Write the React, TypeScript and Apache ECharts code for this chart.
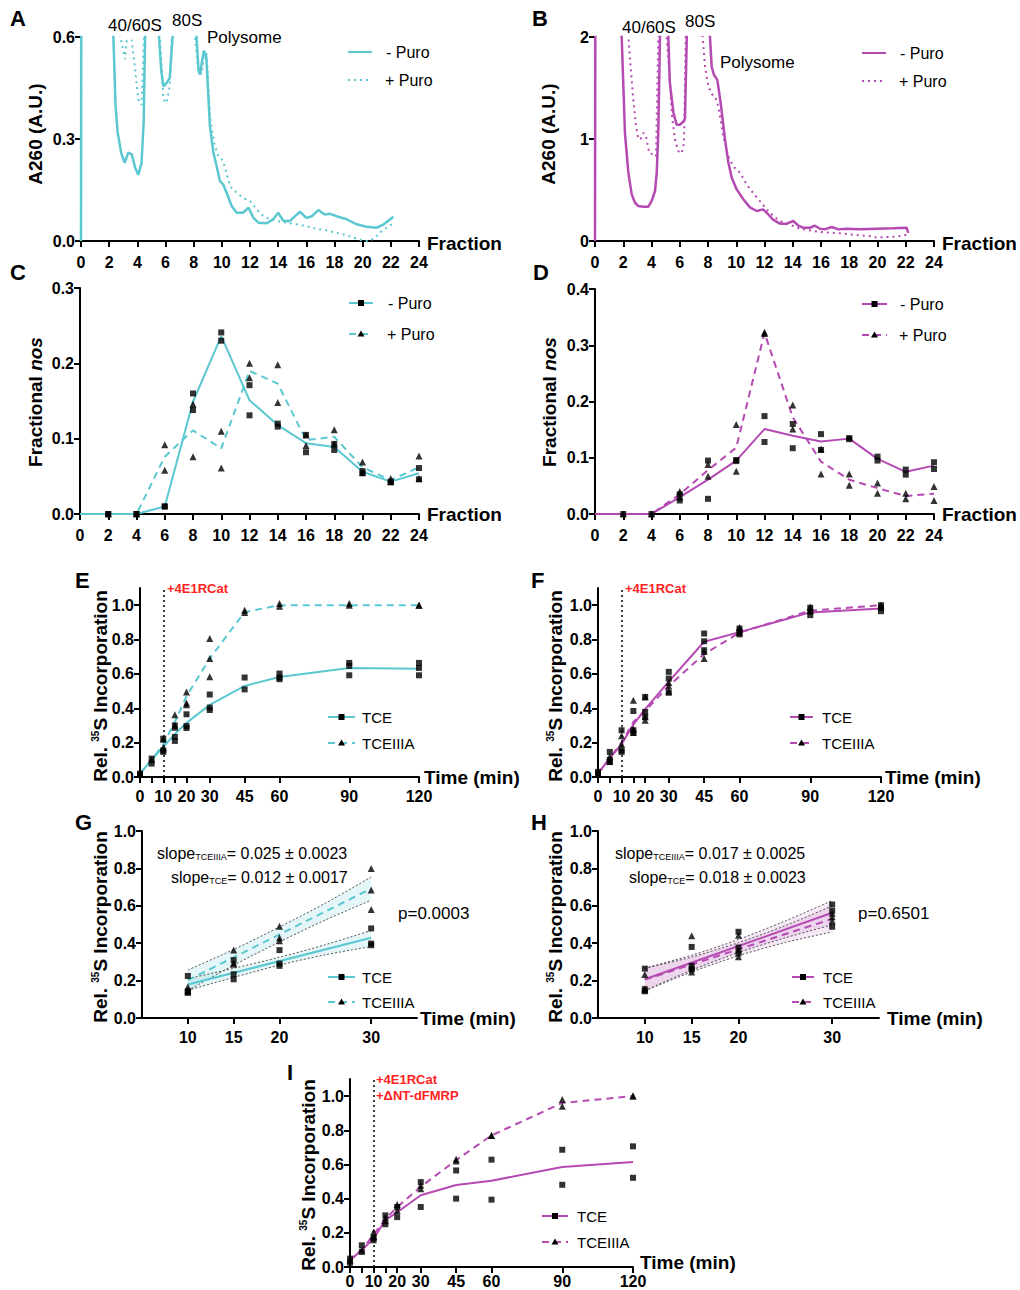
import React, { useEffect, useRef } from "react";
import * as echarts from "echarts";

const FONT = "'Liberation Sans', Arial, Helvetica, sans-serif";
const CYAN = "#5BC8D1";
const MAG = "#B54AB2";

// ---------- Panel A (A260 traces, cyan) [fraction, A260] ----------
const aMinusPuro: number[][] = [
  [0, 0], [0.03, 1.2], [1.5, 1.5], [2.3, 0.6], [2.45, 0.4], [2.6, 0.32], [2.85, 0.26], [3.1, 0.23], [3.36, 0.26],
  [3.6, 0.255], [3.85, 0.215], [4.07, 0.195], [4.3, 0.23], [4.45, 0.35], [4.55, 0.6], [5.0, 1.5], [5.54, 0.6],
  [5.7, 0.5], [5.85, 0.455], [6.08, 0.465], [6.3, 0.48], [6.42, 0.55], [6.5, 0.6], [7.3, 1.5], [8.2, 0.6],
  [8.35, 0.5], [8.45, 0.49], [8.6, 0.53], [8.73, 0.56], [8.9, 0.54], [9.15, 0.34], [9.4, 0.26], [9.63, 0.22],
  [9.87, 0.176], [10.1, 0.166], [10.34, 0.142], [10.7, 0.103], [11.05, 0.083], [11.5, 0.083], [11.9, 0.098],
  [12.24, 0.068], [12.6, 0.054], [13.2, 0.052], [13.65, 0.064], [14.0, 0.083], [14.37, 0.059], [14.84, 0.059],
  [15.2, 0.073], [15.55, 0.086], [16.0, 0.068], [16.4, 0.073], [16.85, 0.091], [17.3, 0.078], [17.7, 0.08],
  [18.15, 0.073], [18.86, 0.064], [19.57, 0.049], [20.28, 0.042], [21.0, 0.039], [21.5, 0.049], [21.8, 0.059],
  [22.18, 0.071],
];
const aPlusPuro: number[][] = [
  [0, 0], [0.03, 1.2], [1.5, 1.5], [2.8, 0.6], [3.0, 0.56], [3.12, 0.535], [3.25, 0.59], [3.6, 0.59], [3.83, 0.51],
  [4.07, 0.416], [4.3, 0.4], [4.47, 0.6], [5.0, 1.5], [5.6, 0.6], [5.85, 0.416], [6.08, 0.406], [6.3, 0.455],
  [6.44, 0.6], [7.3, 1.5], [8.1, 0.6], [8.33, 0.5], [8.57, 0.49], [8.75, 0.55], [8.92, 0.55], [9.15, 0.367],
  [9.5, 0.28], [9.75, 0.25], [10.0, 0.24], [10.2, 0.22], [10.6, 0.16], [11.05, 0.142], [11.5, 0.127], [12.0, 0.117],
  [12.47, 0.093], [12.95, 0.073], [13.4, 0.064], [13.9, 0.059], [14.6, 0.054], [15.3, 0.049], [16.0, 0.044],
  [16.7, 0.036], [17.4, 0.032], [18.15, 0.024], [18.86, 0.017], [19.57, 0.007], [20.05, 0], [20.5, 0], [20.9, 0.01],
  [21.2, 0.024], [21.7, 0.039], [22.18, 0.052],
];

// ---------- Panel B (A260 traces, magenta) ----------
const bMinusPuro: number[][] = [
  [0, 0], [0.03, 3], [1.5, 3], [1.89, 2], [2.12, 1.06], [2.36, 0.67], [2.6, 0.457], [2.83, 0.375], [3.07, 0.343],
  [3.42, 0.336], [3.78, 0.336], [4.0, 0.39], [4.25, 0.49], [4.37, 0.67], [4.48, 1.06], [4.6, 2], [4.9, 3], [5.19, 2],
  [5.3, 1.55], [5.55, 1.26], [5.78, 1.14], [6.0, 1.14], [6.25, 1.17], [6.37, 1.2], [6.5, 2], [7.3, 3], [8.14, 2],
  [8.26, 1.71], [8.42, 1.63], [8.66, 1.58], [8.9, 1.35], [9.2, 1.0], [9.44, 0.77], [9.68, 0.62], [10.03, 0.506],
  [10.5, 0.41], [10.97, 0.33], [11.45, 0.294], [11.9, 0.31], [12.27, 0.26], [12.6, 0.21], [13.1, 0.17], [13.57, 0.17],
  [14.04, 0.196], [14.4, 0.15], [14.75, 0.13], [15.22, 0.13], [15.57, 0.15], [15.93, 0.12], [16.28, 0.114],
  [16.76, 0.137], [17.23, 0.114], [17.8, 0.12], [18.76, 0.114], [19.94, 0.12], [21.12, 0.124], [22.06, 0.13],
  [22.18, 0.08],
];
const bPlusPuro: number[][] = [
  [0, 0], [0.03, 3], [1.5, 3], [2.36, 2], [2.52, 1.71], [2.71, 1.39], [2.9, 1.13], [3.07, 1.0], [3.23, 1.0],
  [3.42, 1.06], [3.6, 1.03], [3.85, 0.86], [4.13, 0.85], [4.32, 0.83], [4.48, 2], [4.8, 3], [5.07, 2], [5.26, 1.65],
  [5.45, 1.22], [5.66, 1.0], [5.9, 0.88], [6.14, 0.86], [6.3, 0.96], [6.42, 2], [7.0, 3], [7.62, 2], [7.79, 1.71],
  [8.02, 1.52], [8.26, 1.44], [8.5, 1.42], [8.73, 1.32], [9.08, 1.03], [9.44, 0.83], [9.79, 0.73], [10.27, 0.67],
  [10.74, 0.555], [11.2, 0.47], [11.68, 0.39], [12.15, 0.31], [12.63, 0.245], [13.1, 0.196], [13.57, 0.17],
  [14.04, 0.147], [14.5, 0.12], [15.22, 0.104], [15.93, 0.088], [16.64, 0.082], [17.35, 0.075], [18.05, 0.065],
  [18.76, 0.055], [19.47, 0.049], [19.94, 0.033], [20.65, 0.039], [21.36, 0.042], [22.18, 0.065],
];

// ---------- Panels C, D (fractional nos) ----------
const fractions = [0, 2, 4, 6, 8, 10, 12, 14, 16, 18, 20, 22, 24];
const cMinusMean = [0, 0, 0, 0.01, 0.149, 0.236, 0.151, 0.118, 0.094, 0.089, 0.056, 0.043, 0.054];
const cPlusMean = [0, 0, 0, 0.076, 0.111, 0.087, 0.19, 0.173, 0.098, 0.1025, 0.062, 0.045, 0.062];
const cMinusReps: number[][] = [
  [2, 0], [2, 0], [4, 0], [4, 0], [6, 0.01], [6, 0.01], [8, 0.16], [8, 0.138], [10, 0.241], [10, 0.23], [12, 0.171],
  [12, 0.131], [14, 0.12], [14, 0.116], [16, 0.105], [16, 0.082], [18, 0.093], [18, 0.085], [20, 0.057], [20, 0.054],
  [22, 0.043], [22, 0.042], [24, 0.061], [24, 0.046],
];
const cPlusReps: number[][] = [
  [2, 0], [4, 0], [6, 0.092], [6, 0.058], [8, 0.146], [8, 0.076], [10, 0.11], [10, 0.061], [12, 0.2], [12, 0.181],
  [14, 0.198], [14, 0.148], [16, 0.105], [16, 0.091], [18, 0.112], [18, 0.093], [20, 0.069], [20, 0.055],
  [22, 0.047], [22, 0.043], [24, 0.077], [24, 0.047],
];
const dMinusMean = [0, 0, 0, 0.03, 0.061, 0.095, 0.151, 0.139, 0.129, 0.134, 0.098, 0.075, 0.086];
const dPlusMean = [0, 0, 0, 0.035, 0.078, 0.118, 0.322, 0.172, 0.093, 0.061, 0.046, 0.032, 0.036];
const dMinusReps: number[][] = [
  [2, 0], [4, 0], [6, 0.024], [6, 0.035], [8, 0.095], [8, 0.027], [10, 0.096], [10, 0.094], [12, 0.174], [12, 0.128],
  [14, 0.16], [14, 0.117], [16, 0.142], [16, 0.114], [18, 0.135], [18, 0.133], [20, 0.102], [20, 0.095],
  [22, 0.079], [22, 0.07], [24, 0.092], [24, 0.08],
];
const dPlusReps: number[][] = [
  [2, 0], [4, 0], [6, 0.04], [6, 0.03], [8, 0.088], [8, 0.067], [10, 0.159], [10, 0.076], [12, 0.323], [12, 0.321],
  [14, 0.194], [14, 0.151], [16, 0.071], [16, 0.115], [18, 0.071], [18, 0.051], [20, 0.055], [20, 0.037],
  [22, 0.037], [22, 0.027], [24, 0.049], [24, 0.024],
];

// ---------- Panels E, F, I (time courses) ----------
const times = [0, 5, 10, 15, 20, 30, 45, 60, 90, 120];
const timeTicks = [0, 5, 10, 15, 20, 30, 45, 60, 90, 120];
const timeLabels = [0, 10, 20, 30, 45, 60, 90, 120];
const incTicks = [0, 0.2, 0.4, 0.6, 0.8, 1.0];
const drugAddedAt = 10;

const eTceMean = [0.02, 0.1, 0.175, 0.25, 0.315, 0.42, 0.53, 0.582, 0.635, 0.63];
const eIIIAMean = [0.02, 0.1, 0.19, 0.32, 0.47, 0.69, 0.96, 1.0, 1.0, 1.0];
const eTceReps: number[][] = [
  [0, 0.02], [0, 0.015], [5, 0.107], [5, 0.078], [10, 0.223], [10, 0.155], [10, 0.146], [15, 0.3], [15, 0.233],
  [15, 0.21], [20, 0.365], [20, 0.297], [20, 0.285], [30, 0.48], [30, 0.404], [30, 0.39], [45, 0.579], [45, 0.51],
  [60, 0.602], [60, 0.579], [60, 0.569], [90, 0.664], [90, 0.647], [90, 0.592], [120, 0.664], [120, 0.635],
  [120, 0.592],
];
const eIIIAReps: number[][] = [
  [0, 0.02], [5, 0.1], [10, 0.22], [10, 0.17], [15, 0.363], [15, 0.3], [15, 0.29], [20, 0.495], [20, 0.43],
  [20, 0.42], [30, 0.806], [30, 0.689], [30, 0.583], [45, 0.97], [45, 0.957], [60, 1.01], [60, 0.994], [90, 1.01],
  [90, 1.0], [120, 1.0], [120, 1.0],
];

const fTceMean = [0.02, 0.11, 0.19, 0.305, 0.395, 0.555, 0.787, 0.843, 0.958, 0.98];
const fIIIAMean = [0.02, 0.11, 0.2, 0.32, 0.385, 0.53, 0.715, 0.84, 0.968, 1.0];
const fTceReps: number[][] = [
  [0, 0.02], [0, 0.03], [5, 0.146], [5, 0.087], [5, 0.1], [10, 0.272], [10, 0.155], [10, 0.146], [15, 0.384],
  [15, 0.272], [15, 0.256], [20, 0.466], [20, 0.379], [20, 0.35], [30, 0.612], [30, 0.573], [30, 0.49], [45, 0.835],
  [45, 0.79], [45, 0.738], [60, 0.864], [60, 0.845], [60, 0.83], [90, 0.985], [90, 0.961], [90, 0.942], [120, 1.0],
  [120, 0.985], [120, 0.965],
];
const fIIIAReps: number[][] = [
  [0, 0.02], [5, 0.12], [5, 0.09], [10, 0.24], [10, 0.19], [15, 0.447], [15, 0.28], [15, 0.26], [20, 0.466],
  [20, 0.35], [20, 0.33], [30, 0.55], [30, 0.5], [30, 0.53], [45, 0.69], [45, 0.73], [60, 0.87], [60, 0.84],
  [90, 0.99], [90, 0.97], [120, 1.0], [120, 0.99],
];

const iTceMean = [0.04, 0.1, 0.165, 0.275, 0.32, 0.42, 0.48, 0.505, 0.585, 0.614];
const iIIIAMean = [0.04, 0.1, 0.19, 0.28, 0.35, 0.47, 0.625, 0.77, 0.96, 1.0];
const iTceReps: number[][] = [
  [0, 0.049], [0, 0.025], [5, 0.127], [5, 0.088], [10, 0.17], [10, 0.156], [15, 0.302], [15, 0.25], [20, 0.351],
  [20, 0.292], [30, 0.497], [30, 0.351], [45, 0.565], [45, 0.4], [60, 0.628], [60, 0.394], [90, 0.686], [90, 0.481],
  [120, 0.706], [120, 0.522],
];
const iIIIAReps: number[][] = [
  [0, 0.04], [5, 0.1], [10, 0.205], [10, 0.18], [15, 0.27], [15, 0.29], [20, 0.365], [20, 0.33], [30, 0.478],
  [30, 0.458], [45, 0.63], [45, 0.62], [60, 0.77], [60, 0.77], [90, 0.98], [90, 0.94], [120, 1.0], [120, 1.0],
];

// ---------- Panels G, H (linear fits 10-30 min) ----------
const slopeTimes = [10, 15, 20, 30];
const fitX = [10, 30];
const bandX = [10, 15, 20, 25, 30];

const gTceReps: number[][] = [
  [10, 0.225], [10, 0.143], [10, 0.136], [15, 0.309], [15, 0.234], [15, 0.207], [20, 0.363], [20, 0.291],
  [20, 0.279], [30, 0.479], [30, 0.398], [30, 0.389],
];
const gIIIAReps: number[][] = [
  [10, 0.166], [10, 0.148], [10, 0.139], [15, 0.363], [15, 0.295], [15, 0.288], [20, 0.491], [20, 0.429],
  [20, 0.413], [30, 0.8], [30, 0.684], [30, 0.58],
];
const gTceFit = [0.179, 0.429];
const gIIIAFit = [0.202, 0.692];
const gTceLower = [0.148, 0.217, 0.283, 0.338, 0.382];
const gTceUpper = [0.21, 0.266, 0.325, 0.392, 0.468];
const gIIIALower = [0.147, 0.282, 0.407, 0.524, 0.63];
const gIIIAUpper = [0.257, 0.366, 0.487, 0.614, 0.754];

const hTceReps: number[][] = [
  [10, 0.264], [10, 0.154], [10, 0.143], [15, 0.38], [15, 0.279], [15, 0.259], [20, 0.461], [20, 0.377],
  [20, 0.345], [30, 0.607], [30, 0.573], [30, 0.488],
];
const hIIIAReps: number[][] = [
  [10, 0.232], [10, 0.157], [10, 0.15], [15, 0.44], [15, 0.273], [15, 0.246], [20, 0.443], [20, 0.363],
  [20, 0.327], [30, 0.541], [30, 0.56], [30, 0.52],
];
const hTceFit = [0.207, 0.5625];
const hIIIAFit = [0.205, 0.53];
const hTceLower = [0.147, 0.256, 0.35, 0.429, 0.498];
const hTceUpper = [0.267, 0.336, 0.42, 0.519, 0.628];
const hIIIALower = [0.145, 0.246, 0.333, 0.404, 0.46];
const hIIIAUpper = [0.265, 0.326, 0.403, 0.494, 0.6];

// ---------- helpers ----------
const pairs = (xs: number[], ys: number[]) => xs.map((x, i) => [x, ys[i]]);
const fmt1 = (v: number) => v.toFixed(1);

const grids = [
  { left: 81, top: 37, width: 338, height: 204 },
  { left: 595, top: 37, width: 339, height: 204 },
  { left: 80, top: 288, width: 339, height: 226 },
  { left: 595, top: 289, width: 339, height: 225 },
  { left: 140, top: 588, width: 279, height: 189 },
  { left: 598, top: 588, width: 283, height: 189 },
  { left: 142, top: 831, width: 275, height: 187 },
  { left: 598, top: 831, width: 281, height: 187 },
  { left: 350, top: 1079, width: 283, height: 188 },
];

function axis(gridIndex: number, o: any) {
  return {
    type: "value",
    gridIndex,
    min: o.min,
    max: o.max,
    interval: o.interval,
    axisLine: { show: true, onZero: false, lineStyle: { color: "#000", width: 2 } },
    axisTick: { show: true, length: 6, lineStyle: { color: "#000", width: 2 }, customValues: o.ticks },
    axisLabel: {
      show: true,
      margin: o.margin,
      color: "#000",
      fontSize: 16,
      fontWeight: "bold",
      fontFamily: FONT,
      customValues: o.labels,
      formatter: o.fmt,
    },
    splitLine: { show: false },
  };
}

function label(x: number, y: number, text: string, size: number, opts: any = {}) {
  const style: any = {
    text,
    fill: opts.fill || "#000",
    fontSize: size,
    fontWeight: opts.bold ? "bold" : "normal",
    fontFamily: FONT,
    textAlign: opts.align || "left",
    textVerticalAlign: "middle",
  };
  if (opts.rich) style.rich = opts.rich;
  return { type: "text", x, y, rotation: opts.rotation || 0, silent: true, z: 100, style };
}

function legendRow(x1: number, x2: number, y: number, color: string, dash: number[] | null, marker: string | null, text: string, tx: number, size = 16) {
  const lineStyle: any = { stroke: color, lineWidth: 2 };
  if (dash) lineStyle.lineDash = dash;
  const els: any[] = [{ type: "line", silent: true, z: 100, shape: { x1, y1: y, x2, y2: y }, style: lineStyle }];
  const m = (x1 + x2) / 2;
  if (marker === "rect") els.push({ type: "rect", silent: true, z: 101, shape: { x: m - 3, y: y - 3, width: 6, height: 6 }, style: { fill: "#000" } });
  if (marker === "triangle")
    els.push({ type: "polygon", silent: true, z: 101, shape: { points: [[m, y - 3.5], [m + 3.5, y + 2.5], [m - 3.5, y + 2.5]] }, style: { fill: "#000" } });
  els.push(label(tx, y, text, size));
  return els;
}

function lineSeries(idx: number, data: number[][], color: string, width: number, dash?: any, extra: any = {}) {
  return {
    type: "line",
    xAxisIndex: idx,
    yAxisIndex: idx,
    data,
    symbol: "none",
    showSymbol: false,
    animation: false,
    lineStyle: { color, width, type: dash || "solid" },
    z: 3,
    ...extra,
  };
}

function scatterSeries(idx: number, data: number[][], symbol: string) {
  return {
    type: "scatter",
    xAxisIndex: idx,
    yAxisIndex: idx,
    data,
    symbol,
    symbolSize: symbol === "rect" ? 6 : 7,
    itemStyle: { color: "#000" },
    z: 5,
  };
}

function bandFill(idx: number, xs: number[], lower: number[], upper: number[], color: string) {
  return {
    type: "custom",
    xAxisIndex: idx,
    yAxisIndex: idx,
    silent: true,
    z: 1,
    data: xs.map((x, i) => [x, lower[i], upper[i]]),
    renderItem: (params: any, api: any) => {
      if (params.dataIndex !== 0) return null;
      const pts: number[][] = [];
      for (let i = 0; i < xs.length; i++) pts.push(api.coord([xs[i], upper[i]]));
      for (let i = xs.length - 1; i >= 0; i--) pts.push(api.coord([xs[i], lower[i]]));
      return { type: "polygon", shape: { points: pts }, style: { fill: color } };
    },
  };
}

function bandLine(idx: number, xs: number[], ys: number[]) {
  return lineSeries(idx, pairs(xs, ys), "#555", 1, [2, 2], { smooth: 0.3, z: 2 });
}

const drugLine = {
  silent: true,
  symbol: "none",
  label: { show: false },
  lineStyle: { color: "#000", width: 1.5, type: [2, 3] },
  data: [{ xAxis: drugAddedAt }],
};

const DOT = [2, 4];
const DASH = [7, 5];

const supRich = {
  sup: { fontSize: 10, fontWeight: "bold", fontFamily: FONT, verticalAlign: "top" },
};
const itRich = {
  it: { fontSize: 19, fontWeight: "bold", fontStyle: "italic", fontFamily: FONT },
};
const subRich = {
  sub: { fontSize: 9, fontFamily: FONT, verticalAlign: "bottom", lineHeight: 2 },
};

function buildOption() {
  const xAxis = [
    axis(0, { min: 0, max: 24, interval: 2, margin: 13, fmt: (v: number) => String(v) }),
    axis(1, { min: 0, max: 24, interval: 2, margin: 13, fmt: (v: number) => String(v) }),
    axis(2, { min: 0, max: 24, interval: 2, margin: 13, fmt: (v: number) => String(v) }),
    axis(3, { min: 0, max: 24, interval: 2, margin: 13, fmt: (v: number) => String(v) }),
    axis(4, { min: 0, max: 120, ticks: timeTicks, labels: timeLabels, margin: 11, fmt: (v: number) => String(v) }),
    axis(5, { min: 0, max: 120, ticks: timeTicks, labels: timeLabels, margin: 11, fmt: (v: number) => String(v) }),
    axis(6, { min: 5, max: 35, ticks: slopeTimes, labels: slopeTimes, margin: 11, fmt: (v: number) => String(v) }),
    axis(7, { min: 5, max: 35, ticks: slopeTimes, labels: slopeTimes, margin: 11, fmt: (v: number) => String(v) }),
    axis(8, { min: 0, max: 120, ticks: timeTicks, labels: timeLabels, margin: 6, fmt: (v: number) => String(v) }),
  ];
  const yAxis = [
    axis(0, { min: 0, max: 0.6, interval: 0.3, margin: 6, fmt: fmt1 }),
    axis(1, { min: 0, max: 2, interval: 1, margin: 6, fmt: (v: number) => String(v) }),
    axis(2, { min: 0, max: 0.3, interval: 0.1, margin: 6, fmt: fmt1 }),
    axis(3, { min: 0, max: 0.4, interval: 0.1, margin: 6, fmt: fmt1 }),
    axis(4, { min: 0, max: 1.1, ticks: incTicks, labels: incTicks, margin: 6, fmt: fmt1 }),
    axis(5, { min: 0, max: 1.1, ticks: incTicks, labels: incTicks, margin: 6, fmt: fmt1 }),
    axis(6, { min: 0, max: 1.0, interval: 0.2, margin: 6, fmt: fmt1 }),
    axis(7, { min: 0, max: 1.0, interval: 0.2, margin: 6, fmt: fmt1 }),
    axis(8, { min: 0, max: 1.1, ticks: incTicks, labels: incTicks, margin: 6, fmt: fmt1 }),
  ];

  const series: any[] = [
    // A
    lineSeries(0, aPlusPuro, CYAN, 2, DOT),
    lineSeries(0, aMinusPuro, CYAN, 2.5),
    // B
    lineSeries(1, bPlusPuro, MAG, 2, DOT),
    lineSeries(1, bMinusPuro, MAG, 2.5),
    // C
    lineSeries(2, pairs(fractions, cMinusMean), CYAN, 2),
    lineSeries(2, pairs(fractions, cPlusMean), CYAN, 2, DASH),
    scatterSeries(2, cMinusReps, "rect"),
    scatterSeries(2, cPlusReps, "triangle"),
    // D
    lineSeries(3, pairs(fractions, dMinusMean), MAG, 2),
    lineSeries(3, pairs(fractions, dPlusMean), MAG, 2, DASH),
    scatterSeries(3, dMinusReps, "rect"),
    scatterSeries(3, dPlusReps, "triangle"),
    // E
    lineSeries(4, pairs(times, eTceMean), CYAN, 2, undefined, { markLine: drugLine }),
    lineSeries(4, pairs(times, eIIIAMean), CYAN, 2, DASH),
    scatterSeries(4, eTceReps, "rect"),
    scatterSeries(4, eIIIAReps, "triangle"),
    // F
    lineSeries(5, pairs(times, fTceMean), MAG, 2, undefined, { markLine: drugLine }),
    lineSeries(5, pairs(times, fIIIAMean), MAG, 2, DASH),
    scatterSeries(5, fTceReps, "rect"),
    scatterSeries(5, fIIIAReps, "triangle"),
    // G
    bandFill(6, bandX, gTceLower, gTceUpper, "rgba(91,200,209,0.16)"),
    bandFill(6, bandX, gIIIALower, gIIIAUpper, "rgba(91,200,209,0.16)"),
    bandLine(6, bandX, gTceLower),
    bandLine(6, bandX, gTceUpper),
    bandLine(6, bandX, gIIIALower),
    bandLine(6, bandX, gIIIAUpper),
    lineSeries(6, pairs(fitX, gTceFit), CYAN, 2),
    lineSeries(6, pairs(fitX, gIIIAFit), CYAN, 2, DASH),
    scatterSeries(6, gTceReps, "rect"),
    scatterSeries(6, gIIIAReps, "triangle"),
    // H
    bandFill(7, bandX, hTceLower, hTceUpper, "rgba(181,74,178,0.12)"),
    bandFill(7, bandX, hIIIALower, hIIIAUpper, "rgba(181,74,178,0.12)"),
    bandLine(7, bandX, hTceLower),
    bandLine(7, bandX, hTceUpper),
    bandLine(7, bandX, hIIIALower),
    bandLine(7, bandX, hIIIAUpper),
    lineSeries(7, pairs(fitX, hTceFit), MAG, 2),
    lineSeries(7, pairs(fitX, hIIIAFit), MAG, 2, DASH),
    scatterSeries(7, hTceReps, "rect"),
    scatterSeries(7, hIIIAReps, "triangle"),
    // I
    lineSeries(8, pairs(times, iTceMean), MAG, 2, undefined, { markLine: drugLine }),
    lineSeries(8, pairs(times, iIIIAMean), MAG, 2, DASH),
    scatterSeries(8, iTceReps, "rect"),
    scatterSeries(8, iIIIAReps, "triangle"),
  ];

  const R = Math.PI / 2;
  const incTitle = "Rel. {sup|35}S Incorporation";
  const graphics: any[] = [
    // panel letters
    label(10, 18, "A", 22, { bold: true }),
    label(532, 18, "B", 22, { bold: true }),
    label(10, 272, "C", 22, { bold: true }),
    label(533, 272, "D", 22, { bold: true }),
    label(75, 580, "E", 22, { bold: true }),
    label(531, 580, "F", 22, { bold: true }),
    label(75, 822, "G", 22, { bold: true }),
    label(531, 822, "H", 22, { bold: true }),
    label(287, 1072, "I", 22, { bold: true }),
    // peak annotations
    label(108, 25, "40/60S", 17),
    label(172, 20, "80S", 17),
    label(207, 37, "Polysome", 17),
    label(622, 27, "40/60S", 17),
    label(685, 21, "80S", 17),
    label(720, 62, "Polysome", 17),
    // y titles
    label(35, 134, "A260 (A.U.)", 19, { bold: true, rotation: R, align: "center" }),
    label(548, 134, "A260 (A.U.)", 19, { bold: true, rotation: R, align: "center" }),
    label(35, 402, "Fractional {it|nos}", 19, { bold: true, rotation: R, align: "center", rich: itRich }),
    label(549, 402, "Fractional {it|nos}", 19, { bold: true, rotation: R, align: "center", rich: itRich }),
    label(100, 686, incTitle, 19, { bold: true, rotation: R, align: "center", rich: supRich }),
    label(555, 686, incTitle, 19, { bold: true, rotation: R, align: "center", rich: supRich }),
    label(100, 927, incTitle, 19, { bold: true, rotation: R, align: "center", rich: supRich }),
    label(555, 927, incTitle, 19, { bold: true, rotation: R, align: "center", rich: supRich }),
    label(308, 1175, incTitle, 19, { bold: true, rotation: R, align: "center", rich: supRich }),
    // x titles
    label(427, 243, "Fraction", 19, { bold: true }),
    label(942, 243, "Fraction", 19, { bold: true }),
    label(427, 514, "Fraction", 19, { bold: true }),
    label(942, 514, "Fraction", 19, { bold: true }),
    label(424, 777, "Time (min)", 19, { bold: true }),
    label(885, 777, "Time (min)", 19, { bold: true }),
    label(420, 1018, "Time (min)", 19, { bold: true }),
    label(887, 1018, "Time (min)", 19, { bold: true }),
    label(640, 1262, "Time (min)", 19, { bold: true }),
    // red annotations
    label(167, 588, "+4E1RCat", 13, { bold: true, fill: "#FF2222" }),
    label(625, 588, "+4E1RCat", 13, { bold: true, fill: "#FF2222" }),
    label(376, 1079, "+4E1RCat", 13, { bold: true, fill: "#FF2222" }),
    label(376, 1095, "+\u0394NT-dFMRP", 13, { bold: true, fill: "#FF2222" }),
    // slope annotations
    label(157, 853, "slope{sub|TCEIIIA}= 0.025 \u00b1 0.0023", 16, { rich: subRich }),
    label(171, 877, "slope{sub|TCE}= 0.012 \u00b1 0.0017", 16, { rich: subRich }),
    label(398, 913, "p=0.0003", 17),
    label(615, 853, "slope{sub|TCEIIIA}= 0.017 \u00b1 0.0025", 16, { rich: subRich }),
    label(629, 877, "slope{sub|TCE}= 0.018 \u00b1 0.0023", 16, { rich: subRich }),
    label(858, 913, "p=0.6501", 17),
    // legends
    ...legendRow(348, 372, 52, CYAN, null, null, "- Puro", 386),
    ...legendRow(348, 372, 80, CYAN, DOT, null, "+ Puro", 385),
    ...legendRow(862, 886, 53, MAG, null, null, "- Puro", 900),
    ...legendRow(862, 886, 81, MAG, DOT, null, "+ Puro", 899),
    ...legendRow(349, 373, 303, CYAN, null, "rect", "- Puro", 388),
    ...legendRow(349, 373, 334, CYAN, DASH, "triangle", "+ Puro", 387),
    ...legendRow(862, 887, 304, MAG, null, "rect", "- Puro", 900),
    ...legendRow(862, 887, 335, MAG, DASH, "triangle", "+ Puro", 899),
    ...legendRow(328, 355, 717, CYAN, null, "rect", "TCE", 362, 15),
    ...legendRow(328, 355, 743, CYAN, DASH, "triangle", "TCEIIIA", 362, 15),
    ...legendRow(790, 813, 717, MAG, null, "rect", "TCE", 822, 15),
    ...legendRow(790, 813, 743, MAG, DASH, "triangle", "TCEIIIA", 822, 15),
    ...legendRow(328, 355, 977, CYAN, null, "rect", "TCE", 362, 15),
    ...legendRow(328, 355, 1002, CYAN, DASH, "triangle", "TCEIIIA", 362, 15),
    ...legendRow(792, 814, 977, MAG, null, "rect", "TCE", 823, 15),
    ...legendRow(792, 814, 1002, MAG, DASH, "triangle", "TCEIIIA", 823, 15),
    ...legendRow(542, 568, 1216, MAG, null, "rect", "TCE", 577, 15),
    ...legendRow(542, 568, 1242, MAG, DASH, "triangle", "TCEIIIA", 577, 15),
  ];

  return {
    animation: false,
    backgroundColor: "#fff",
    grid: grids.map((g) => ({ ...g, containLabel: false, outerBoundsMode: "none" })),
    xAxis,
    yAxis,
    series,
    graphic: { elements: graphics },
  };
}

export default function App() {
  const ref = useRef<HTMLDivElement>(null);
  useEffect(() => {
    if (!ref.current) return;
    const chart = echarts.init(ref.current, undefined, { renderer: "svg" });
    chart.setOption(buildOption() as any);
    return () => chart.dispose();
  }, []);
  return <div ref={ref} style={{ position: "absolute", left: 0, top: 0, width: 1020, height: 1290 }} />;
}
